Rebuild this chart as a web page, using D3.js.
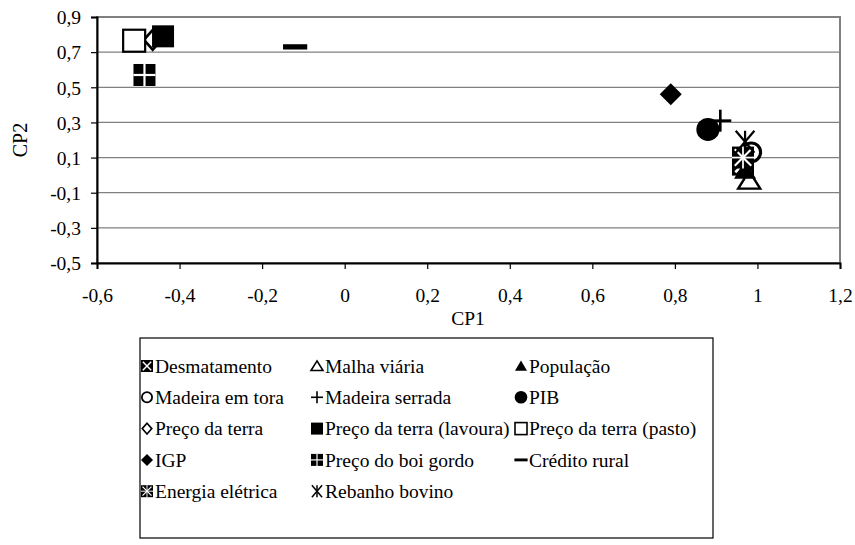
<!DOCTYPE html>
<html><head><meta charset="utf-8">
<script src="https://cdn.jsdelivr.net/npm/d3@7"></script>
<style>body{margin:0;background:#fff;overflow:hidden}svg{display:block}</style>
</head><body><svg id="c" width="855" height="545"></svg>
<script>
const names = ["Desmatamento","Malha viária","População","Madeira em tora","Madeira serrada","PIB","Preço da terra","Preço da terra (lavoura)","Preço da terra (pasto)","IGP","Preço do boi gordo","Crédito rural","Energia elétrica","Rebanho bovino"];
const cp1 = [0.965,0.98,0.97,0.985,0.91,0.88,-0.465,-0.44,-0.51,0.79,-0.485,-0.12,0.965,0.97];
const cp2 = [0.06,-0.03,0.03,0.13,0.31,0.26,0.77,0.79,0.765,0.46,0.57,0.73,0.10,0.19];
const shapes = ["squareX","triangleOpen","triangle","circleOpen","plus","circle","diamondOpen","square","squareOpen","diamond","squareCross","dash","squareXPlus","asterisk"];
const xTicks = [-0.6,-0.4,-0.2,0,0.2,0.4,0.6,0.8,1,1.2];
const yTicks = [-0.5,-0.3,-0.1,0.1,0.3,0.5,0.7,0.9];

const FONT = '"Liberation Serif","Times New Roman",serif';
const svg = d3.select("#c");
const x = d3.scaleLinear().domain([-0.6,1.2]).range([97,840]);
const y = d3.scaleLinear().domain([-0.5,0.9]).range([263,17]);
const fmt = v => (Math.abs(v)<1e-9?"0":String(+v.toFixed(1)).replace(".",","));

svg.append("g").selectAll("line").data(yTicks).join("line")
  .attr("x1",x(-0.6)).attr("x2",x(1.2)).attr("y1",d=>y(d)).attr("y2",d=>y(d))
  .attr("stroke","#808080").attr("stroke-width",1.3);
svg.append("rect").attr("x",x(-0.6)).attr("y",y(0.9)).attr("width",x(1.2)-x(-0.6)).attr("height",y(-0.5)-y(0.9))
  .attr("fill","none").attr("stroke","#808080").attr("stroke-width",2);

const xa = svg.append("g").attr("transform",`translate(0,${y(-0.5)})`)
  .call(d3.axisBottom(x).tickValues(xTicks).tickFormat(fmt).tickSize(6).tickPadding(26));
const ya = svg.append("g").attr("transform",`translate(${x(-0.6)},0)`)
  .call(d3.axisLeft(y).tickValues(yTicks).tickFormat(fmt).tickSize(6).tickPadding(10));
[xa,ya].forEach(a=>{a.attr("font-family",FONT).attr("font-size",19.5);
  a.select(".domain").attr("stroke","#000").attr("stroke-width",2);
  a.selectAll(".tick line").attr("stroke","#000").attr("stroke-width",1.2);
  a.selectAll("text").attr("fill","#000");});
xa.selectAll("text").attr("dy","0.35em");
ya.selectAll("text").attr("dy","0.35em");

svg.append("text").attr("x",468).attr("y",325).attr("text-anchor","middle").attr("font-family",FONT).attr("font-size",19.5).text("CP1");
svg.append("text").attr("transform","translate(27,140) rotate(-90)").attr("text-anchor","middle").attr("font-family",FONT).attr("font-size",20).text("CP2");

function marker(g, shape, s){
  const h=s/2;
  const wl=(x1,y1,x2,y2,c,w)=>g.append("line").attr("x1",x1).attr("y1",y1).attr("x2",x2).attr("y2",y2).attr("stroke",c).attr("stroke-width",w);
  switch(shape){
    case "squareX":
      g.append("rect").attr("x",-h).attr("y",-h).attr("width",s).attr("height",s).attr("fill","#000");
      wl(-h*0.7,-h*0.7,h*0.7,h*0.7,"#fff",s*0.12); wl(-h*0.7,h*0.7,h*0.7,-h*0.7,"#fff",s*0.12); break;
    case "squareXPlus":
      g.append("rect").attr("x",-h).attr("y",-h).attr("width",s).attr("height",s).attr("fill","#000");
      wl(-h*0.75,-h*0.75,h*0.75,h*0.75,"#fff",s*0.1); wl(-h*0.75,h*0.75,h*0.75,-h*0.75,"#fff",s*0.1);
      wl(0,-h,0,h,"#fff",s*0.08); wl(-h,0,h,0,"#fff",s*0.08); break;
    case "triangleOpen":
      g.append("path").attr("d",`M0,${-h*0.85}L${h},${h*0.75}L${-h},${h*0.75}Z`).attr("fill","#fff").attr("stroke","#000").attr("stroke-width",Math.max(1.6,s*0.11)); break;
    case "triangle":
      g.append("path").attr("d",`M0,${-h*0.9}L${h},${h*0.8}L${-h},${h*0.8}Z`).attr("fill","#000"); break;
    case "circleOpen":
      g.append("circle").attr("r",h*0.85).attr("fill","#fff").attr("stroke","#000").attr("stroke-width",Math.max(1.8,s*0.14)); break;
    case "plus":
      wl(-h,0,h,0,"#000",Math.max(1.6,s*0.12)); wl(0,-h,0,h,"#000",Math.max(1.6,s*0.12)); break;
    case "circle":
      g.append("circle").attr("r",h*1.05).attr("fill","#000"); break;
    case "diamondOpen":
      g.append("path").attr("d",`M0,${-h*0.9}L${h*0.8},0L0,${h*0.9}L${-h*0.8},0Z`).attr("fill","#fff").attr("stroke","#000").attr("stroke-width",Math.max(1.6,s*0.12)); break;
    case "diamond":
      g.append("path").attr("d",`M0,${-h}L${h},0L0,${h}L${-h},0Z`).attr("fill","#000"); break;
    case "square":
      g.append("rect").attr("x",-h).attr("y",-h).attr("width",s).attr("height",s).attr("fill","#000"); break;
    case "squareOpen":
      g.append("rect").attr("x",-h).attr("y",-h).attr("width",s).attr("height",s).attr("fill","#fff").attr("stroke","#000").attr("stroke-width",Math.max(1.6,s*0.1)); break;
    case "squareCross":
      g.append("rect").attr("x",-h).attr("y",-h).attr("width",s).attr("height",s).attr("fill","#000");
      wl(0,-h,0,h,"#fff",s*0.1); wl(-h,0,h,0,"#fff",s*0.1); break;
    case "dash":
      g.append("rect").attr("x",-h*1.1).attr("y",-s*0.12).attr("width",s*1.1).attr("height",s*0.24).attr("fill","#000"); break;
    case "asterisk":
      wl(-h*0.85,-h,h*0.85,h,"#000",Math.max(1.5,s*0.1)); wl(-h*0.85,h,h*0.85,-h,"#000",Math.max(1.5,s*0.1));
      wl(0,-h,0,h,"#000",Math.max(1.5,s*0.1)); break;
  }
}

const pts = svg.append("g");
names.forEach((n,i)=>{
  const g = pts.append("g").attr("transform",`translate(${x(cp1[i])},${y(cp2[i])})`);
  marker(g, shapes[i], 22);
});

const lg = svg.append("g");
lg.append("rect").attr("x",140).attr("y",338).attr("width",573).attr("height",200).attr("fill","#fff").attr("stroke","#000").attr("stroke-width",1.2);
const colX=[147,317,521], rowY0=366, rowDy=31.3;
names.forEach((n,i)=>{
  const c=i%3, r=Math.floor(i/3);
  const g=lg.append("g").attr("transform",`translate(${colX[c]},${rowY0+r*rowDy})`);
  marker(g.append("g"), shapes[i], 12);
  g.append("text").attr("x",8).attr("y",0).attr("dy","0.35em").attr("font-family",FONT).attr("font-size",19.5).text(n);
});
</script></body></html>
